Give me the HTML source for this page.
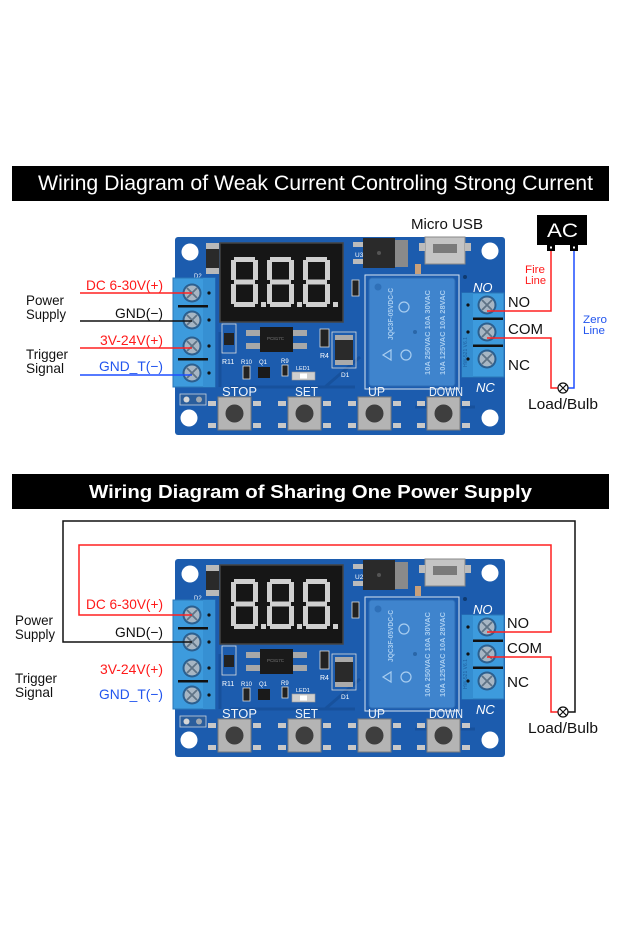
<!DOCTYPE html>
<html>
<head>
<meta charset="utf-8">
<style>
  html,body{margin:0;padding:0;background:#fff;}
  body{width:620px;height:930px;overflow:hidden;}
  svg{display:block;}
  text{font-family:"Liberation Sans", Arial, sans-serif;}
</style>
</head>
<body>
<svg width="620" height="930" viewBox="0 0 620 930" xmlns="http://www.w3.org/2000/svg">
<rect width="620" height="930" fill="#fff"/>

<!-- ===== Header 1 ===== -->
<rect x="12" y="166" width="597" height="35" fill="#000"/>
<text x="38" y="190" font-size="21" fill="#fff" textLength="555" lengthAdjust="spacingAndGlyphs">Wiring Diagram of Weak Current Controling Strong Current</text>

<!-- ===== Header 2 ===== -->
<rect x="12" y="474" width="597" height="35" fill="#000"/>
<text x="89" y="498" font-size="18.5" font-weight="bold" fill="#fff" textLength="443" lengthAdjust="spacingAndGlyphs">Wiring Diagram of Sharing One Power Supply</text>

<!-- ===== BOARD 1 ===== -->
<g transform="translate(175,237)">
  <rect width="330" height="198" rx="3" fill="#1c5cae"/>
  <path d="M55 150 H180 M150 150 L185 120 M240 170 H300 M45 95 V150" stroke="#17519c" stroke-width="3" fill="none"/>
  <circle cx="15" cy="15" r="8.5" fill="#fff"/>
  <circle cx="315" cy="14" r="8.5" fill="#fff"/>
  <circle cx="14" cy="181" r="8.5" fill="#fff"/>
  <circle cx="315" cy="181" r="8.5" fill="#fff"/>
  <circle cx="290" cy="40" r="2" fill="#0f3a70"/>
  <!-- D2 -->
  <rect x="31" y="6" width="13" height="31" fill="#2a2a2a"/>
  <rect x="31" y="6" width="13" height="6" fill="#b9b9b9"/>
  <rect x="31" y="31" width="13" height="6" fill="#b9b9b9"/>
  <text x="19" y="41" font-size="6" fill="#fff">D2</text>
  <!-- left terminal block -->
  <rect x="-2" y="41" width="42" height="109" fill="#3d9bdd" stroke="#2a77b8"/>
  <rect x="28" y="41" width="12" height="109" fill="#3690d3"/>
  <rect x="3" y="68" width="30" height="2.5" fill="#111"/>
  <rect x="3" y="121" width="30" height="2.5" fill="#111"/>
  <g fill="#2c5f8e"><circle cx="17" cy="56" r="9.5"/><circle cx="17" cy="83" r="9.5"/><circle cx="17" cy="109" r="9.5"/><circle cx="17" cy="136" r="9.5"/></g>
  <g fill="#a7b6c4"><circle cx="17" cy="56" r="7.5"/><circle cx="17" cy="83" r="7.5"/><circle cx="17" cy="109" r="7.5"/><circle cx="17" cy="136" r="7.5"/></g>
  <path d="M12 51 L22 61 M22 51 L12 61 M12 78 L22 88 M22 78 L12 88 M12 104 L22 114 M22 104 L12 114 M12 131 L22 141 M22 131 L12 141" stroke="#5f7386" stroke-width="1.8"/>
  <g fill="#111"><circle cx="34" cy="56" r="1.6"/><circle cx="34" cy="83" r="1.6"/><circle cx="34" cy="109" r="1.6"/><circle cx="34" cy="136" r="1.6"/></g>
  <rect x="5" y="157" width="26" height="11" fill="#2b5e9c" stroke="#c9d3de" stroke-width="0.8"/>
  <circle cx="11.5" cy="162.5" r="3" fill="#d6d6d6"/><circle cx="24" cy="162.5" r="3" fill="#a0a8b0"/>
  <!-- display -->
  <rect x="45" y="6" width="123" height="79" fill="#161616" stroke="#444" stroke-width="1.5"/>
  <g fill="#cfcfcf">
    <g transform="translate(56,20)"><rect x="3" y="0" width="21" height="5"/><rect x="22" y="3" width="5" height="20"/><rect x="22" y="27" width="5" height="20"/><rect x="3" y="45" width="21" height="5"/><rect x="0" y="27" width="5" height="20"/><rect x="0" y="3" width="5" height="20"/><rect x="3" y="22.5" width="21" height="5"/><rect x="30" y="45" width="5" height="5"/></g>
    <g transform="translate(92,20)"><rect x="3" y="0" width="21" height="5"/><rect x="22" y="3" width="5" height="20"/><rect x="22" y="27" width="5" height="20"/><rect x="3" y="45" width="21" height="5"/><rect x="0" y="27" width="5" height="20"/><rect x="0" y="3" width="5" height="20"/><rect x="3" y="22.5" width="21" height="5"/><rect x="30" y="45" width="5" height="5"/></g>
    <g transform="translate(128,20)"><rect x="3" y="0" width="21" height="5"/><rect x="22" y="3" width="5" height="20"/><rect x="22" y="27" width="5" height="20"/><rect x="3" y="45" width="21" height="5"/><rect x="0" y="27" width="5" height="20"/><rect x="0" y="3" width="5" height="20"/><rect x="3" y="22.5" width="21" height="5"/><rect x="30" y="45" width="5" height="5"/></g>
  </g>
  <!-- U3 regulator -->
  <rect x="178" y="5" width="10" height="5" fill="#bbb"/><rect x="178" y="22" width="10" height="5" fill="#bbb"/>
  <rect x="188" y="1" width="32" height="30" fill="#2a2a2a"/>
  <rect x="220" y="3" width="13" height="27" fill="#8a8a8a"/>
  <circle cx="204" cy="16" r="2" fill="#555"/>
  <text x="180" y="20" font-size="6.5" fill="#fff">U3</text>
  <rect x="240" y="27" width="6" height="10" fill="#c9a07a"/>
  <!-- micro usb -->
  <rect x="250" y="0" width="40" height="27" fill="#c4c4c4" stroke="#888"/>
  <rect x="258" y="7" width="24" height="9" fill="#7a7a7a"/>
  <rect x="244" y="6" width="6" height="8" fill="#bbb"/><rect x="290" y="6" width="6" height="8" fill="#bbb"/>
  <!-- C1 -->
  <rect x="177" y="43" width="7" height="16" fill="#222" stroke="#ddd" stroke-width="0.8"/>
  <!-- relay -->
  <rect x="190" y="38" width="94" height="114" fill="none" stroke="#d8e4f0" stroke-width="1"/>
  <rect x="194" y="41" width="86" height="108" rx="3" fill="#3f84cd" stroke="#2e6db4"/>
  <circle cx="203" cy="50" r="3.5" fill="#2f70b8"/>
  <circle cx="240" cy="95" r="2" fill="#2a66a8"/>
  <g fill="#a8cdf0" font-size="7.5" font-weight="bold">
    <text transform="translate(218,103) rotate(-90)" textLength="52" lengthAdjust="spacingAndGlyphs">JQC3F-05VDC-C</text>
    <text transform="translate(255,138) rotate(-90)" textLength="85" lengthAdjust="spacingAndGlyphs">10A 250VAC 10A 30VAC</text>
    <text transform="translate(270,138) rotate(-90)" textLength="85" lengthAdjust="spacingAndGlyphs">10A 125VAC 10A 28VAC</text>
  </g>
  <path d="M208 118 L216 113 L216 123 Z" fill="none" stroke="#a8cdf0" stroke-width="1.2"/>
  <circle cx="231" cy="118" r="5" fill="none" stroke="#a8cdf0" stroke-width="1.2"/>
  <circle cx="229" cy="70" r="5" fill="none" stroke="#a8cdf0" stroke-width="1.2"/>
  <!-- right terminal block -->
  <rect x="287" y="56" width="42" height="84" fill="#3d9bdd" stroke="#2a77b8"/>
  <rect x="287" y="56" width="11" height="84" fill="#348dd0"/>
  <rect x="298" y="80.5" width="30" height="2.5" fill="#111"/>
  <rect x="298" y="107.5" width="30" height="2.5" fill="#111"/>
  <g fill="#2c5f8e"><circle cx="312" cy="68" r="9.5"/><circle cx="312" cy="95" r="9.5"/><circle cx="312" cy="122" r="9.5"/></g>
  <g fill="#a7b6c4"><circle cx="312" cy="68" r="7.5"/><circle cx="312" cy="95" r="7.5"/><circle cx="312" cy="122" r="7.5"/></g>
  <path d="M307 63 L317 73 M317 63 L307 73 M307 90 L317 100 M317 90 L307 100 M307 117 L317 127 M317 117 L307 127" stroke="#5f7386" stroke-width="1.8"/>
  <g fill="#111"><circle cx="293" cy="68" r="1.6"/><circle cx="293" cy="95" r="1.6"/><circle cx="293" cy="122" r="1.6"/></g>
  <text transform="translate(292,130) rotate(-90)" font-size="5" fill="#1f5e9e">HW-521 V6.1</text>
  <text x="298" y="55" font-size="13" font-style="italic" fill="#fff">NO</text>
  <text x="301" y="155" font-size="13" font-style="italic" fill="#fff">NC</text>
  <!-- D1 -->
  <rect x="157" y="95" width="24" height="36" fill="none" stroke="#ddd" stroke-width="0.8"/>
  <rect x="160" y="98" width="18" height="30" fill="#2a2a2a"/>
  <rect x="160" y="98" width="18" height="5" fill="#aaa"/><rect x="160" y="123" width="18" height="5" fill="#aaa"/>
  <text x="166" y="140" font-size="6.5" fill="#fff">D1</text>
  <!-- PC817 -->
  <rect x="71" y="93" width="14" height="6" fill="#a8a8a8"/><rect x="71" y="106" width="14" height="6" fill="#a8a8a8"/>
  <rect x="118" y="93" width="14" height="6" fill="#a8a8a8"/><rect x="118" y="106" width="14" height="6" fill="#a8a8a8"/>
  <rect x="85" y="90" width="33" height="25" fill="#1a1a1a"/>
  <text x="92" y="103" font-size="4.5" fill="#777">PC817C</text>
  <!-- R11 -->
  <rect x="47" y="87" width="14" height="29" fill="none" stroke="#ddd" stroke-width="0.8"/>
  <rect x="49" y="96" width="10" height="12" fill="#222"/>
  <text x="47" y="127" font-size="7" fill="#fff">R11</text>
  <!-- R4 -->
  <rect x="145" y="92" width="9" height="18" fill="#222" stroke="#ddd" stroke-width="0.8"/>
  <text x="145" y="121" font-size="7" fill="#fff">R4</text>
  <!-- small parts -->
  <text x="66" y="127" font-size="6" fill="#fff">R10</text>
  <rect x="68" y="129" width="7" height="13" fill="#222" stroke="#ddd" stroke-width="0.8"/>
  <text x="84" y="127" font-size="6" fill="#fff">Q1</text>
  <rect x="83" y="130" width="12" height="11" fill="#1a1a1a"/>
  <text x="106" y="126" font-size="6" fill="#fff">R9</text>
  <rect x="107" y="128" width="6" height="11" fill="#222" stroke="#ddd" stroke-width="0.8"/>
  <text x="121" y="133" font-size="5.5" fill="#fff">LED1</text>
  <rect x="117" y="135" width="23" height="8" fill="#cfcfcf" stroke="#999" stroke-width="0.6"/>
  <rect x="125" y="136.5" width="7" height="5" fill="#fff"/>
  <!-- buttons -->
  <g fill="#c8c8c8">
    <rect x="33" y="164" width="8" height="5"/><rect x="33" y="186" width="8" height="5"/><rect x="78" y="164" width="8" height="5"/><rect x="78" y="186" width="8" height="5"/>
    <rect x="103" y="164" width="8" height="5"/><rect x="103" y="186" width="8" height="5"/><rect x="148" y="164" width="8" height="5"/><rect x="148" y="186" width="8" height="5"/>
    <rect x="173" y="164" width="8" height="5"/><rect x="173" y="186" width="8" height="5"/><rect x="218" y="164" width="8" height="5"/><rect x="218" y="186" width="8" height="5"/>
    <rect x="242" y="164" width="8" height="5"/><rect x="242" y="186" width="8" height="5"/><rect x="287" y="164" width="8" height="5"/><rect x="287" y="186" width="8" height="5"/>
  </g>
  <g fill="#b4b4b4" stroke="#7a7a7a">
    <rect x="43" y="160" width="33" height="33"/><rect x="113" y="160" width="33" height="33"/><rect x="183" y="160" width="33" height="33"/><rect x="252" y="160" width="33" height="33"/>
  </g>
  <g fill="#3e3e3e">
    <circle cx="59.5" cy="176.5" r="9"/><circle cx="129.5" cy="176.5" r="9"/><circle cx="199.5" cy="176.5" r="9"/><circle cx="268.5" cy="176.5" r="9"/>
  </g>
  <g fill="#eef3f8" font-size="13">
    <text x="47" y="159" textLength="35" lengthAdjust="spacingAndGlyphs">STOP</text>
    <text x="120" y="159" textLength="23" lengthAdjust="spacingAndGlyphs">SET</text>
    <text x="193" y="159" textLength="17" lengthAdjust="spacingAndGlyphs">UP</text>
    <text x="254" y="159" textLength="34" lengthAdjust="spacingAndGlyphs">DOWN</text>
  </g>
</g>

<!-- ===== BOARD 2 ===== -->
<g transform="translate(175,559)">
  <rect width="330" height="198" rx="3" fill="#1c5cae"/>
  <path d="M55 150 H180 M150 150 L185 120 M240 170 H300 M45 95 V150" stroke="#17519c" stroke-width="3" fill="none"/>
  <circle cx="15" cy="15" r="8.5" fill="#fff"/>
  <circle cx="315" cy="14" r="8.5" fill="#fff"/>
  <circle cx="14" cy="181" r="8.5" fill="#fff"/>
  <circle cx="315" cy="181" r="8.5" fill="#fff"/>
  <circle cx="290" cy="40" r="2" fill="#0f3a70"/>
  <rect x="31" y="6" width="13" height="31" fill="#2a2a2a"/>
  <rect x="31" y="6" width="13" height="6" fill="#b9b9b9"/>
  <rect x="31" y="31" width="13" height="6" fill="#b9b9b9"/>
  <text x="19" y="41" font-size="6" fill="#fff">D2</text>
  <rect x="-2" y="41" width="42" height="109" fill="#3d9bdd" stroke="#2a77b8"/>
  <rect x="28" y="41" width="12" height="109" fill="#3690d3"/>
  <rect x="3" y="68" width="30" height="2.5" fill="#111"/>
  <rect x="3" y="121" width="30" height="2.5" fill="#111"/>
  <g fill="#2c5f8e"><circle cx="17" cy="56" r="9.5"/><circle cx="17" cy="83" r="9.5"/><circle cx="17" cy="109" r="9.5"/><circle cx="17" cy="136" r="9.5"/></g>
  <g fill="#a7b6c4"><circle cx="17" cy="56" r="7.5"/><circle cx="17" cy="83" r="7.5"/><circle cx="17" cy="109" r="7.5"/><circle cx="17" cy="136" r="7.5"/></g>
  <path d="M12 51 L22 61 M22 51 L12 61 M12 78 L22 88 M22 78 L12 88 M12 104 L22 114 M22 104 L12 114 M12 131 L22 141 M22 131 L12 141" stroke="#5f7386" stroke-width="1.8"/>
  <g fill="#111"><circle cx="34" cy="56" r="1.6"/><circle cx="34" cy="83" r="1.6"/><circle cx="34" cy="109" r="1.6"/><circle cx="34" cy="136" r="1.6"/></g>
  <rect x="5" y="157" width="26" height="11" fill="#2b5e9c" stroke="#c9d3de" stroke-width="0.8"/>
  <circle cx="11.5" cy="162.5" r="3" fill="#d6d6d6"/><circle cx="24" cy="162.5" r="3" fill="#a0a8b0"/>
  <rect x="45" y="6" width="123" height="79" fill="#161616" stroke="#444" stroke-width="1.5"/>
  <g fill="#cfcfcf">
    <g transform="translate(56,20)"><rect x="3" y="0" width="21" height="5"/><rect x="22" y="3" width="5" height="20"/><rect x="22" y="27" width="5" height="20"/><rect x="3" y="45" width="21" height="5"/><rect x="0" y="27" width="5" height="20"/><rect x="0" y="3" width="5" height="20"/><rect x="3" y="22.5" width="21" height="5"/><rect x="30" y="45" width="5" height="5"/></g>
    <g transform="translate(92,20)"><rect x="3" y="0" width="21" height="5"/><rect x="22" y="3" width="5" height="20"/><rect x="22" y="27" width="5" height="20"/><rect x="3" y="45" width="21" height="5"/><rect x="0" y="27" width="5" height="20"/><rect x="0" y="3" width="5" height="20"/><rect x="3" y="22.5" width="21" height="5"/><rect x="30" y="45" width="5" height="5"/></g>
    <g transform="translate(128,20)"><rect x="3" y="0" width="21" height="5"/><rect x="22" y="3" width="5" height="20"/><rect x="22" y="27" width="5" height="20"/><rect x="3" y="45" width="21" height="5"/><rect x="0" y="27" width="5" height="20"/><rect x="0" y="3" width="5" height="20"/><rect x="3" y="22.5" width="21" height="5"/><rect x="30" y="45" width="5" height="5"/></g>
  </g>
  <rect x="178" y="5" width="10" height="5" fill="#bbb"/><rect x="178" y="22" width="10" height="5" fill="#bbb"/>
  <rect x="188" y="1" width="32" height="30" fill="#2a2a2a"/>
  <rect x="220" y="3" width="13" height="27" fill="#8a8a8a"/>
  <circle cx="204" cy="16" r="2" fill="#555"/>
  <text x="180" y="20" font-size="6.5" fill="#fff">U2</text>
  <rect x="240" y="27" width="6" height="10" fill="#c9a07a"/>
  <rect x="250" y="0" width="40" height="27" fill="#c4c4c4" stroke="#888"/>
  <rect x="258" y="7" width="24" height="9" fill="#7a7a7a"/>
  <rect x="244" y="6" width="6" height="8" fill="#bbb"/><rect x="290" y="6" width="6" height="8" fill="#bbb"/>
  <rect x="177" y="43" width="7" height="16" fill="#222" stroke="#ddd" stroke-width="0.8"/>
  <rect x="190" y="38" width="94" height="114" fill="none" stroke="#d8e4f0" stroke-width="1"/>
  <rect x="194" y="41" width="86" height="108" rx="3" fill="#3f84cd" stroke="#2e6db4"/>
  <circle cx="203" cy="50" r="3.5" fill="#2f70b8"/>
  <circle cx="240" cy="95" r="2" fill="#2a66a8"/>
  <g fill="#a8cdf0" font-size="7.5" font-weight="bold">
    <text transform="translate(218,103) rotate(-90)" textLength="52" lengthAdjust="spacingAndGlyphs">JQC3F-05VDC-C</text>
    <text transform="translate(255,138) rotate(-90)" textLength="85" lengthAdjust="spacingAndGlyphs">10A 250VAC 10A 30VAC</text>
    <text transform="translate(270,138) rotate(-90)" textLength="85" lengthAdjust="spacingAndGlyphs">10A 125VAC 10A 28VAC</text>
  </g>
  <path d="M208 118 L216 113 L216 123 Z" fill="none" stroke="#a8cdf0" stroke-width="1.2"/>
  <circle cx="231" cy="118" r="5" fill="none" stroke="#a8cdf0" stroke-width="1.2"/>
  <circle cx="229" cy="70" r="5" fill="none" stroke="#a8cdf0" stroke-width="1.2"/>
  <rect x="287" y="56" width="42" height="84" fill="#3d9bdd" stroke="#2a77b8"/>
  <rect x="287" y="56" width="11" height="84" fill="#348dd0"/>
  <rect x="298" y="80.5" width="30" height="2.5" fill="#111"/>
  <rect x="298" y="107.5" width="30" height="2.5" fill="#111"/>
  <g fill="#2c5f8e"><circle cx="312" cy="68" r="9.5"/><circle cx="312" cy="95" r="9.5"/><circle cx="312" cy="122" r="9.5"/></g>
  <g fill="#a7b6c4"><circle cx="312" cy="68" r="7.5"/><circle cx="312" cy="95" r="7.5"/><circle cx="312" cy="122" r="7.5"/></g>
  <path d="M307 63 L317 73 M317 63 L307 73 M307 90 L317 100 M317 90 L307 100 M307 117 L317 127 M317 117 L307 127" stroke="#5f7386" stroke-width="1.8"/>
  <g fill="#111"><circle cx="293" cy="68" r="1.6"/><circle cx="293" cy="95" r="1.6"/><circle cx="293" cy="122" r="1.6"/></g>
  <text transform="translate(292,130) rotate(-90)" font-size="5" fill="#1f5e9e">HW-521 V6.1</text>
  <text x="298" y="55" font-size="13" font-style="italic" fill="#fff">NO</text>
  <text x="301" y="155" font-size="13" font-style="italic" fill="#fff">NC</text>
  <rect x="157" y="95" width="24" height="36" fill="none" stroke="#ddd" stroke-width="0.8"/>
  <rect x="160" y="98" width="18" height="30" fill="#2a2a2a"/>
  <rect x="160" y="98" width="18" height="5" fill="#aaa"/><rect x="160" y="123" width="18" height="5" fill="#aaa"/>
  <text x="166" y="140" font-size="6.5" fill="#fff">D1</text>
  <rect x="71" y="93" width="14" height="6" fill="#a8a8a8"/><rect x="71" y="106" width="14" height="6" fill="#a8a8a8"/>
  <rect x="118" y="93" width="14" height="6" fill="#a8a8a8"/><rect x="118" y="106" width="14" height="6" fill="#a8a8a8"/>
  <rect x="85" y="90" width="33" height="25" fill="#1a1a1a"/>
  <text x="92" y="103" font-size="4.5" fill="#777">PC817C</text>
  <rect x="47" y="87" width="14" height="29" fill="none" stroke="#ddd" stroke-width="0.8"/>
  <rect x="49" y="96" width="10" height="12" fill="#222"/>
  <text x="47" y="127" font-size="7" fill="#fff">R11</text>
  <rect x="145" y="92" width="9" height="18" fill="#222" stroke="#ddd" stroke-width="0.8"/>
  <text x="145" y="121" font-size="7" fill="#fff">R4</text>
  <text x="66" y="127" font-size="6" fill="#fff">R10</text>
  <rect x="68" y="129" width="7" height="13" fill="#222" stroke="#ddd" stroke-width="0.8"/>
  <text x="84" y="127" font-size="6" fill="#fff">Q1</text>
  <rect x="83" y="130" width="12" height="11" fill="#1a1a1a"/>
  <text x="106" y="126" font-size="6" fill="#fff">R9</text>
  <rect x="107" y="128" width="6" height="11" fill="#222" stroke="#ddd" stroke-width="0.8"/>
  <text x="121" y="133" font-size="5.5" fill="#fff">LED1</text>
  <rect x="117" y="135" width="23" height="8" fill="#cfcfcf" stroke="#999" stroke-width="0.6"/>
  <rect x="125" y="136.5" width="7" height="5" fill="#fff"/>
  <g fill="#c8c8c8">
    <rect x="33" y="164" width="8" height="5"/><rect x="33" y="186" width="8" height="5"/><rect x="78" y="164" width="8" height="5"/><rect x="78" y="186" width="8" height="5"/>
    <rect x="103" y="164" width="8" height="5"/><rect x="103" y="186" width="8" height="5"/><rect x="148" y="164" width="8" height="5"/><rect x="148" y="186" width="8" height="5"/>
    <rect x="173" y="164" width="8" height="5"/><rect x="173" y="186" width="8" height="5"/><rect x="218" y="164" width="8" height="5"/><rect x="218" y="186" width="8" height="5"/>
    <rect x="242" y="164" width="8" height="5"/><rect x="242" y="186" width="8" height="5"/><rect x="287" y="164" width="8" height="5"/><rect x="287" y="186" width="8" height="5"/>
  </g>
  <g fill="#b4b4b4" stroke="#7a7a7a">
    <rect x="43" y="160" width="33" height="33"/><rect x="113" y="160" width="33" height="33"/><rect x="183" y="160" width="33" height="33"/><rect x="252" y="160" width="33" height="33"/>
  </g>
  <g fill="#3e3e3e">
    <circle cx="59.5" cy="176.5" r="9"/><circle cx="129.5" cy="176.5" r="9"/><circle cx="199.5" cy="176.5" r="9"/><circle cx="268.5" cy="176.5" r="9"/>
  </g>
  <g fill="#eef3f8" font-size="13">
    <text x="47" y="159" textLength="35" lengthAdjust="spacingAndGlyphs">STOP</text>
    <text x="120" y="159" textLength="23" lengthAdjust="spacingAndGlyphs">SET</text>
    <text x="193" y="159" textLength="17" lengthAdjust="spacingAndGlyphs">UP</text>
    <text x="254" y="159" textLength="34" lengthAdjust="spacingAndGlyphs">DOWN</text>
  </g>
</g>

<!-- ===== Top section wiring & labels ===== -->
<g fill="none" stroke-width="1.5">
  <path d="M80 293 H192" stroke="#ff2020"/>
  <path d="M80 321 H192" stroke="#111"/>
  <path d="M80 348 H192" stroke="#ff2020"/>
  <path d="M80 375 H192" stroke="#1f4fff"/>
  <path d="M487 311 H551 V250" stroke="#ff2020"/>
  <path d="M487 338 H551 V388 H558" stroke="#ff2020"/>
  <path d="M574 250 V388 H568" stroke="#1f4fff"/>
</g>
<g font-size="14">
  <text x="86" y="290" fill="#ff1a1a" textLength="77" lengthAdjust="spacingAndGlyphs">DC 6-30V(+)</text>
  <text x="115" y="318" fill="#111" textLength="48" lengthAdjust="spacingAndGlyphs">GND(−)</text>
  <text x="100" y="345" fill="#ff1a1a" textLength="63" lengthAdjust="spacingAndGlyphs">3V-24V(+)</text>
  <text x="99" y="371" fill="#2255ee" textLength="64" lengthAdjust="spacingAndGlyphs">GND_T(−)</text>
  <text x="26" y="305" fill="#111" textLength="38" lengthAdjust="spacingAndGlyphs">Power</text>
  <text x="26" y="319" fill="#111" textLength="40" lengthAdjust="spacingAndGlyphs">Supply</text>
  <text x="26" y="359" fill="#111" textLength="42" lengthAdjust="spacingAndGlyphs">Trigger</text>
  <text x="26" y="373" fill="#111" textLength="38" lengthAdjust="spacingAndGlyphs">Signal</text>
</g>
<text x="411" y="229" font-size="15" fill="#111" textLength="72" lengthAdjust="spacingAndGlyphs">Micro USB</text>
<!-- AC box -->
<rect x="537" y="215" width="50" height="30" fill="#000"/>
<text x="547" y="237" font-size="19.5" fill="#fff" textLength="31" lengthAdjust="spacingAndGlyphs">AC</text>
<rect x="547" y="244" width="8" height="7" fill="#000"/>
<rect x="570" y="244" width="8" height="7" fill="#000"/>
<rect x="550" y="246.5" width="2" height="2" fill="#fff"/>
<rect x="573" y="246.5" width="2" height="2" fill="#fff"/>
<g font-size="11">
  <text x="525" y="273" fill="#ff1a1a" textLength="20" lengthAdjust="spacingAndGlyphs">Fire</text>
  <text x="525" y="284" fill="#ff1a1a" textLength="21" lengthAdjust="spacingAndGlyphs">Line</text>
  <text x="583" y="323" fill="#2255ee" textLength="24" lengthAdjust="spacingAndGlyphs">Zero</text>
  <text x="583" y="334" fill="#2255ee" textLength="22" lengthAdjust="spacingAndGlyphs">Line</text>
</g>
<g font-size="15" fill="#111">
  <text x="508" y="307" textLength="22" lengthAdjust="spacingAndGlyphs">NO</text>
  <text x="508" y="334" textLength="35" lengthAdjust="spacingAndGlyphs">COM</text>
  <text x="508" y="370" textLength="22" lengthAdjust="spacingAndGlyphs">NC</text>
  <text x="528" y="409" textLength="70" lengthAdjust="spacingAndGlyphs">Load/Bulb</text>
</g>
<circle cx="563" cy="388" r="5" fill="#fff" stroke="#111" stroke-width="1.2"/>
<path d="M559.5 384.5 L566.5 391.5 M566.5 384.5 L559.5 391.5" stroke="#111" stroke-width="1.2"/>

<!-- ===== Bottom section wiring & labels ===== -->
<g fill="none" stroke-width="1.5">
  <path d="M192 642 H63 V521 H575 V712 H568" stroke="#111"/>
  <path d="M192 615 H79 V545 H551 V632 H487" stroke="#ff2020"/>
  <path d="M487 657 H551 V712 H558" stroke="#ff2020"/>
</g>
<g font-size="14">
  <text x="86" y="609" fill="#ff1a1a" textLength="77" lengthAdjust="spacingAndGlyphs">DC 6-30V(+)</text>
  <text x="115" y="637" fill="#111" textLength="48" lengthAdjust="spacingAndGlyphs">GND(−)</text>
  <text x="100" y="674" fill="#ff1a1a" textLength="63" lengthAdjust="spacingAndGlyphs">3V-24V(+)</text>
  <text x="99" y="699" fill="#2255ee" textLength="64" lengthAdjust="spacingAndGlyphs">GND_T(−)</text>
  <text x="15" y="625" fill="#111" textLength="38" lengthAdjust="spacingAndGlyphs">Power</text>
  <text x="15" y="639" fill="#111" textLength="40" lengthAdjust="spacingAndGlyphs">Supply</text>
  <text x="15" y="683" fill="#111" textLength="42" lengthAdjust="spacingAndGlyphs">Trigger</text>
  <text x="15" y="697" fill="#111" textLength="38" lengthAdjust="spacingAndGlyphs">Signal</text>
</g>
<g font-size="15" fill="#111">
  <text x="507" y="628" textLength="22" lengthAdjust="spacingAndGlyphs">NO</text>
  <text x="507" y="653" textLength="35" lengthAdjust="spacingAndGlyphs">COM</text>
  <text x="507" y="687" textLength="22" lengthAdjust="spacingAndGlyphs">NC</text>
  <text x="528" y="733" textLength="70" lengthAdjust="spacingAndGlyphs">Load/Bulb</text>
</g>
<circle cx="563" cy="712" r="5" fill="#fff" stroke="#111" stroke-width="1.2"/>
<path d="M559.5 708.5 L566.5 715.5 M566.5 708.5 L559.5 715.5" stroke="#111" stroke-width="1.2"/>
</svg>
</body>
</html>
